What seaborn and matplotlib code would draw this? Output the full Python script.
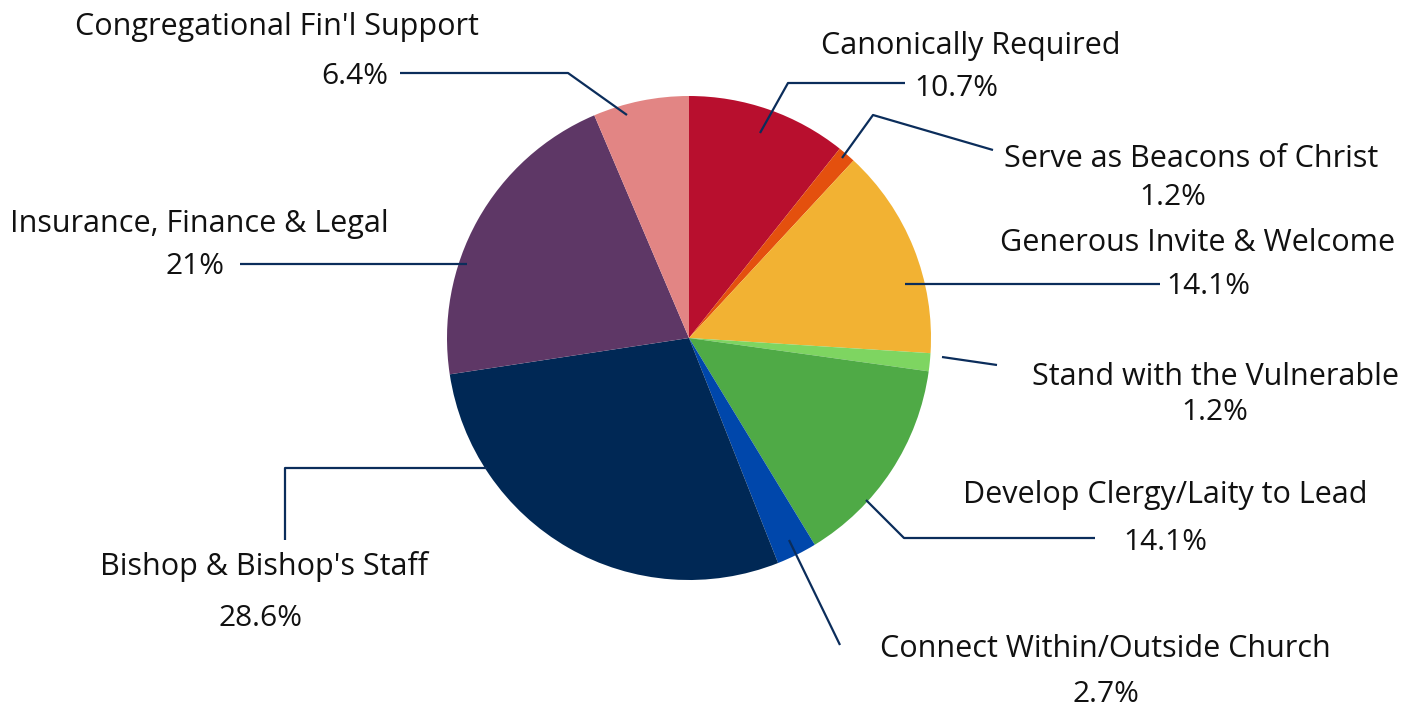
import matplotlib
matplotlib.use("Agg")
import matplotlib.pyplot as plt
import seaborn as sns

categories = ["Canonically Required", "Serve as Beacons of Christ", "Generous Invite & Welcome",
              "Stand with the Vulnerable", "Develop Clergy/Laity to Lead",
              "Connect Within/Outside Church", "Bishop & Bishop's Staff",
              "Insurance, Finance & Legal", "Congregational Fin'l Support"]
values = [10.7, 1.2, 14.1, 1.2, 14.1, 2.7, 28.6, 21, 6.4]
pct_labels = ["10.7%", "1.2%", "14.1%", "1.2%", "14.1%", "2.7%", "28.6%", "21%", "6.4%"]
colors = ["#B80F2E", "#E4500E", "#F2B233", "#7ED561", "#4FAA46",
          "#0047AB", "#002855", "#5E3766", "#E28584"]

sns.set_theme(style="white")
plt.rcParams['font.family'] = ['Open Sans', 'DejaVu Sans']

W, H = 1415, 707
CX, CY, R = 689, 338, 242

def P(px, py):
    return ((px - CX) / R, (CY - py) / R)

fig = plt.figure(figsize=(W / 100, H / 100), dpi=100)
ax = fig.add_axes([0, 0, 1, 1])
ax.pie(values, colors=colors, startangle=90, counterclock=False, radius=1,
       center=(0, 0), wedgeprops=dict(linewidth=0))
ax.set_xlim(-CX / R, (W - CX) / R)
ax.set_ylim((CY - H) / R, CY / R)
ax.set_aspect('equal')
ax.axis('off')

# layout: (name center, pct center, leader polyline) in pixel coords
layout = [
    ((971, 46), (956, 88), [(760, 133), (788, 83), (905, 83)]),
    ((1191, 159), (1173, 197), [(842, 158), (873, 115), (993, 150)]),
    ((1198, 243), (1208, 286), [(905, 284), (1160, 284)]),
    ((1215, 377), (1215, 412), [(942, 357), (997, 365)]),
    ((1165, 495), (1165, 542), [(866, 500), (904, 538), (1095, 538)]),
    ((1105, 649), (1106, 695), [(789, 540), (840, 645)]),
    ((264, 567), (260, 619), [(487, 468), (285, 468), (285, 540)]),
    ((199, 224), (195, 266), [(467, 264), (240, 264)]),
    ((277, 27), (355, 77), [(627, 115), (568, 73), (400, 73)]),
]

fs = 22
for name, pct, (npos, ppos, line) in zip(categories, pct_labels, layout):
    xs, ys = zip(*[P(*p) for p in line])
    ax.plot(xs, ys, color="#0B2D5B", lw=1.6, solid_capstyle='butt')
    ax.text(*P(*npos), name, ha='center', va='center', fontsize=fs, color="#111111")
    ax.text(*P(*ppos), pct, ha='center', va='center', fontsize=fs - 0.5, color="#111111")

fig.savefig("out.png", dpi=100)
